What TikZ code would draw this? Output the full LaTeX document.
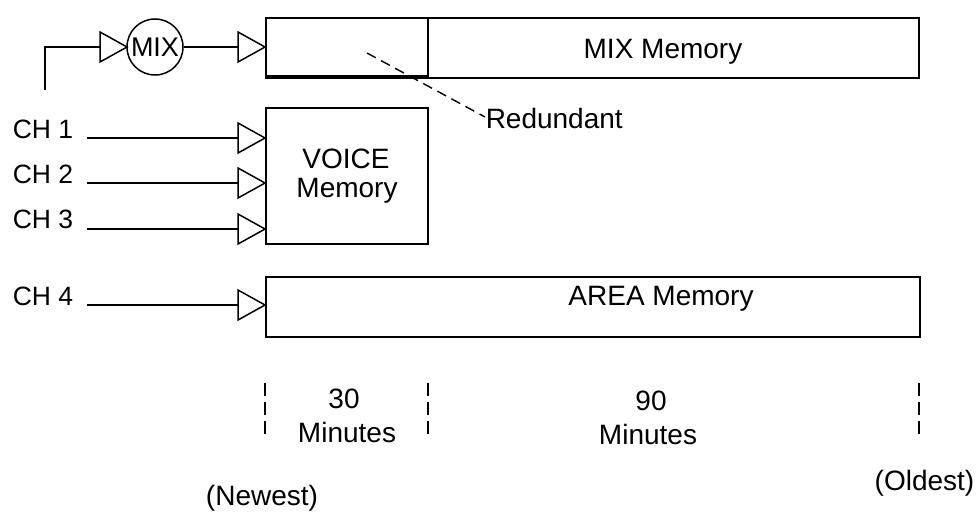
\documentclass[tikz,border=0pt]{standalone}
\usepackage{fontspec}
\setmainfont{Liberation Sans}
\usetikzlibrary{calc}
\begin{document}
\begin{tikzpicture}[x=1pt,y=-1pt,line width=1.5pt,
  membox/.style={draw,rectangle,inner sep=0pt,anchor=north west},
  tri/.style={draw,line join=miter},
  lbl/.style={inner sep=0pt,font=\fontsize{28}{32}\selectfont},
  chlbl/.style={inner sep=0pt,anchor=base west,font=\fontsize{26.5}{30}\selectfont},
  tick/.style={line width=1.2pt,dash pattern=on 13pt off 6pt},
  redline/.style={line width=1.4pt,dash pattern=on 10pt off 6pt}]
\useasboundingbox (0,0) rectangle (976,514);

% memory boxes
\node[membox,minimum width=653pt,minimum height=60pt] (mixmem) at (265,17) {};
\node[membox,minimum width=162pt,minimum height=58pt] (redbox) at (265,17) {};
\node[membox,minimum width=162pt,minimum height=136pt] (voice) at (265,107) {};
\node[membox,minimum width=654pt,minimum height=60pt] (area) at (265,276) {};

\node[lbl,anchor=base] (mixtxt) at (663,58) {MIX Memory};
\node[lbl,anchor=base] (voicetxt) at (346,168) {VOICE};
\node[lbl,anchor=base] (voicetxt2) at (347,197) {Memory};
\node[lbl,anchor=base] (areatxt) at (661,305) {AREA Memory};

% triangle tips
\coordinate (tmix) at (127,47);
\coordinate (tmm) at (265,47);
\coordinate (t1) at (265,138);
\coordinate (t2) at (265,183);
\coordinate (t3) at (265,229);
\coordinate (t4) at (265,305);
\foreach \t in {tmix,tmm,t1,t2,t3,t4}{
  \draw[tri] (\t) -- ++(-27,-15) -- ++(0,30) -- cycle;
}

% MIX circle
\node[circle,draw,minimum size=56pt,inner sep=0pt,font=\fontsize{27}{30}\selectfont] (mix) at (155,47) {MIX};

% top wire
\coordinate (wstart) at (45,90);
\draw (wstart) |- ($(tmix)-(27,0)$);
\draw (mix.east) -- ($(tmm)-(27,0)$);

% channel labels and wires
\node[chlbl] (ch1) at (12,138) {CH 1};
\node[chlbl] (ch2) at (12,183) {CH 2};
\node[chlbl] (ch3) at (12,228) {CH 3};
\node[chlbl] (ch4) at (12,305) {CH 4};
\coordinate (w1) at (87,138);
\coordinate (w2) at (87,183);
\coordinate (w3) at (87,229);
\coordinate (w4) at (87,305);
\draw (w1) -- ($(t1)-(27,0)$);
\draw (w2) -- ($(t2)-(27,0)$);
\draw (w3) -- ($(t3)-(27,0)$);
\draw (w4) -- ($(t4)-(27,0)$);

% redundant
\coordinate (rstart) at (367,53);
\node[lbl,anchor=base west] (red) at (485,128) {Redundant};
\coordinate (rend) at (485,117);
\draw[redline] (rstart) -- (rend);

% ticks
\coordinate (k1a) at (265,383); \coordinate (k1b) at (265,440);
\coordinate (k2a) at (428,383); \coordinate (k2b) at (428,440);
\coordinate (k3a) at (919,383); \coordinate (k3b) at (919,440);
\draw[tick] (k1a) -- (k1b);
\draw[tick] (k2a) -- (k2b);
\draw[tick] (k3a) -- (k3b);

\node[lbl,anchor=base] (n30) at (344,408) {30};
\node[lbl,anchor=base] (m30) at (347,442) {Minutes};
\node[lbl,anchor=base] (n90) at (651,410) {90};
\node[lbl,anchor=base] (m90) at (648,444) {Minutes};
\node[lbl,anchor=base] (newest) at (262,505) {(Newest)};
\node[lbl,anchor=base east] (oldest) at (975,490) {(Oldest)};
\end{tikzpicture}
\end{document}
